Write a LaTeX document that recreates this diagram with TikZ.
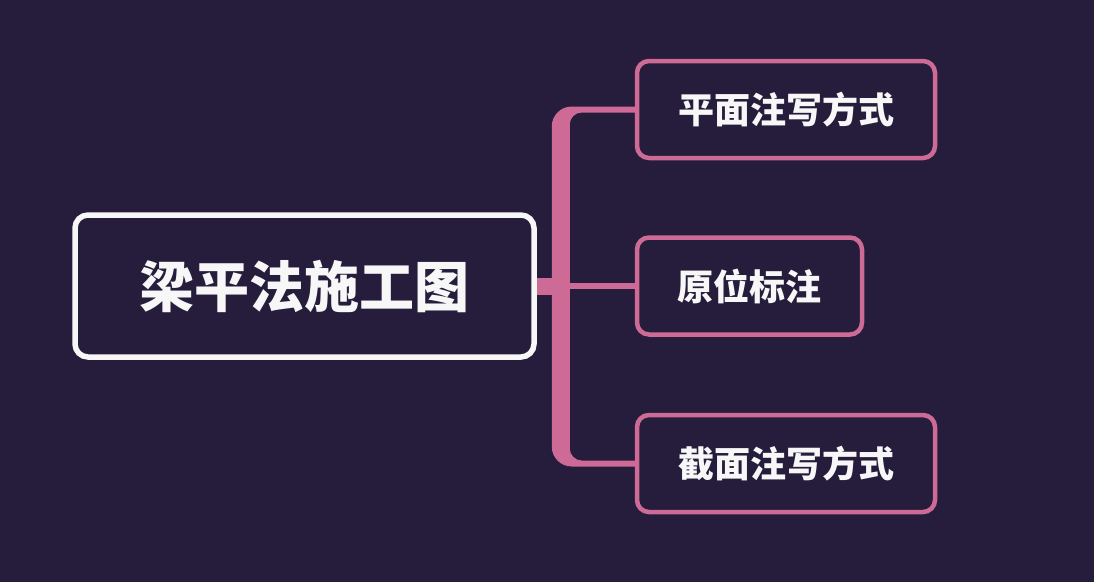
\documentclass[tikz,border=0pt]{standalone}
\usepackage{fontspec}
\setmainfont{Noto Sans CJK SC}[BoldFont=Noto Sans CJK SC Black]
\usetikzlibrary{positioning,calc,backgrounds}
\definecolor{night}{HTML}{261C3B}
\definecolor{rose}{HTML}{CD6B96}
\definecolor{snow}{HTML}{F7F7F7}
\tikzset{hub/.style={draw=snow,fill=night,line width=5.5pt,rounded corners=13pt,minimum width=459pt,minimum height=142pt,text=snow,font=\bfseries\fontsize{55}{60}\selectfont},leaf/.style={draw=rose,fill=night,line width=4.5pt,rounded corners=12pt,minimum height=97pt,text=snow,font=\bfseries\fontsize{36}{40}\selectfont},twig/.style={draw=rose,line width=6pt}}

\begin{document}
\begin{tikzpicture}[x=1pt,y=-1pt]
\useasboundingbox (0,0) rectangle (1094,582);
\node[hub] (m) at (304.5,286) {梁平法施工图};
\node[leaf,minimum width=225pt,right=98pt of m.east,anchor=west] (y) {原位标注};
\node[leaf,minimum width=298pt,above=75pt of y.north west,anchor=south west] (p) {平面注写方式};
\node[leaf,minimum width=298pt,below=76pt of y.south west,anchor=north west] (j) {截面注写方式};
% trunk edges and branch ends
\coordinate (tl) at ([xshift=15pt]m.east);
\coordinate (tr) at ([xshift=33pt]m.east);
\coordinate (pt) at ($(p.center)+(0,-3)$);\coordinate (pb) at ($(p.center)+(0,3)$);
\coordinate (jt) at ($(j.center)+(0,-3)$);\coordinate (jb) at ($(j.center)+(0,3)$);
\begin{scope}[on background layer]
\fill[night] (0,0) rectangle (1094,582);
\fill[rose] (tl) [rounded corners=20pt] -- (tl |- pt) -- (pt) [rounded corners=12pt] -- (pb) -- (tr |- pb) -- (tr |- jt) -- (jt) [rounded corners=20pt] -- (jb) -- (tl |- jb) -- cycle;
\draw[twig,line width=17pt] (m.center) -- (tr);
\draw[twig] (tr) -- (y.center);
\end{scope}
\end{tikzpicture}
\end{document}
